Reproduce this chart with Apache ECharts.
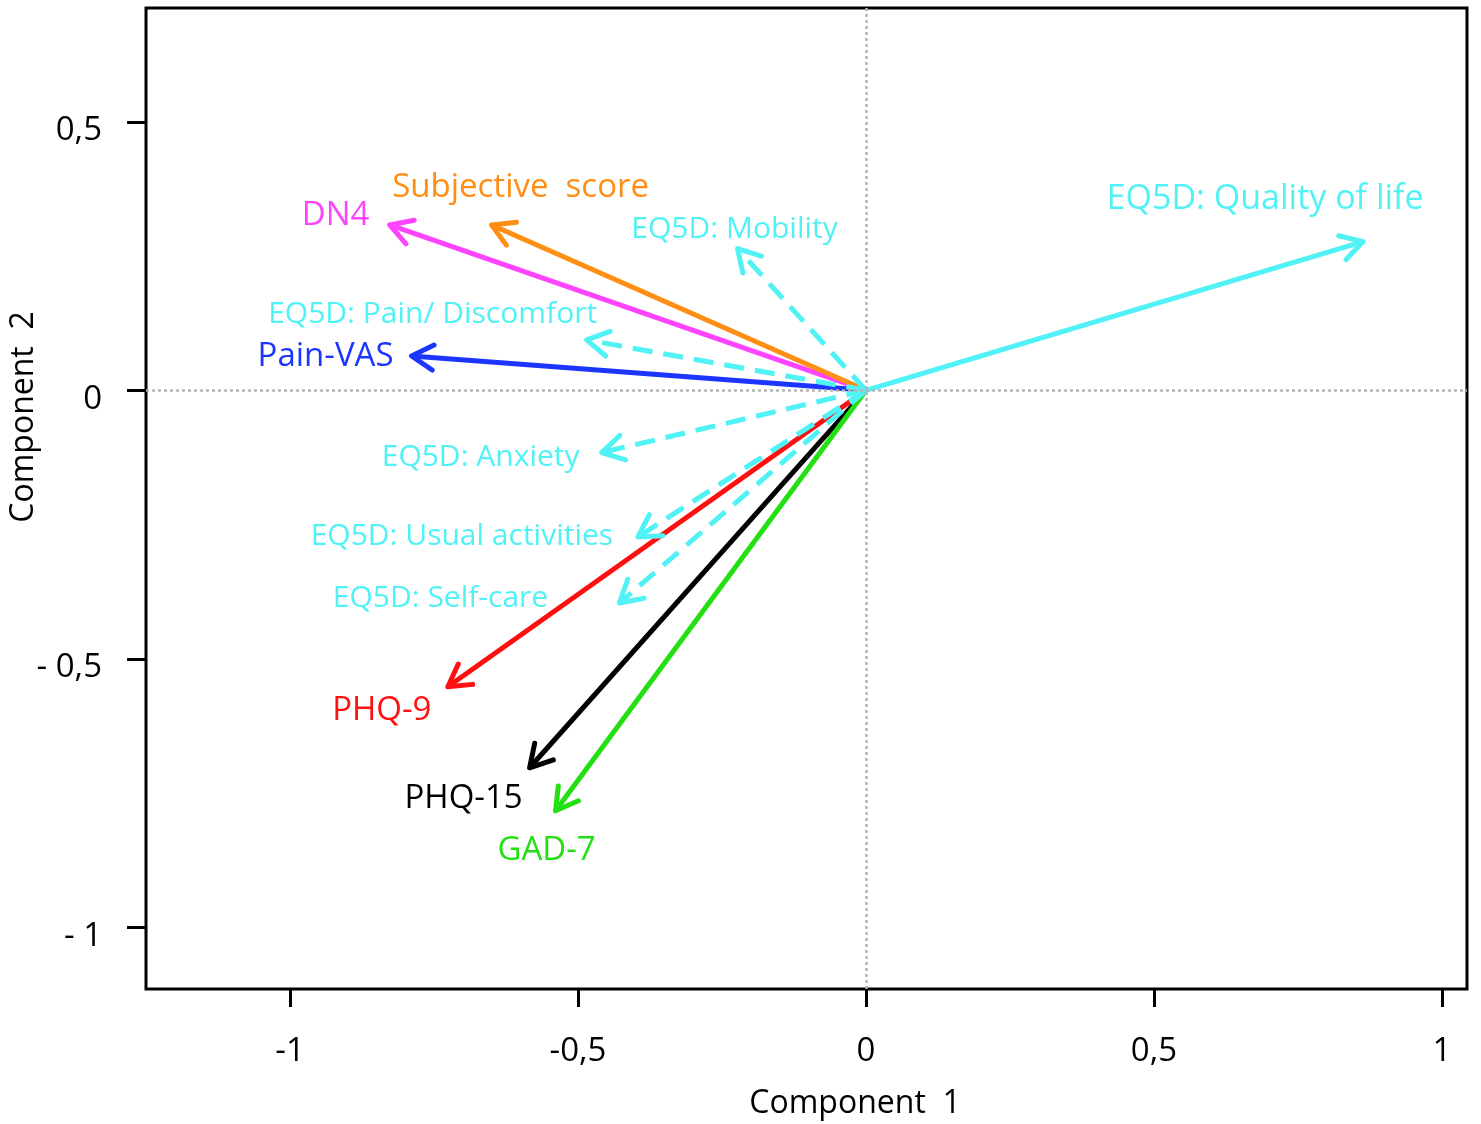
<!DOCTYPE html>
<html>
<head>
<meta charset="utf-8">
<script src="https://cdn.jsdelivr.net/npm/echarts@6/dist/echarts.min.js"></script>
<style>
html, body { margin: 0; padding: 0; background: #fff; }
#chart { width: 1481px; height: 1124px; }
</style>
</head>
<body>
<div id="chart"></div>
<script>
// loadings on the first two components
var variables = ['DN4', 'Subjective  score', 'Pain-VAS', 'PHQ-15', 'GAD-7', 'PHQ-9',
  'EQ5D: Mobility', 'EQ5D: Pain/ Discomfort', 'EQ5D: Anxiety', 'EQ5D: Usual activities',
  'EQ5D: Self-care', 'EQ5D: Quality of life']
var comp1 = [-0.827, -0.650, -0.789, -0.584, -0.539, -0.726, -0.223, -0.485, -0.459, -0.396, -0.428, 0.863]
var comp2 = [0.308, 0.308, 0.064, -0.703, -0.783, -0.552, 0.264, 0.094, -0.116, -0.273, -0.396, 0.277]
var xTicks = [-1, -0.5, 0, 0.5, 1]
var yTicks = [-1, -0.5, 0, 0.5]

// look of each arrow
var cyan = '#50F2F6'
var colors = {
  'DN4': '#FF44FF',
  'Subjective  score': '#FF8E14',
  'Pain-VAS': '#1C36FF',
  'PHQ-15': '#000000',
  'GAD-7': '#22E012',
  'PHQ-9': '#FF1010',
}
var dashedSet = ['EQ5D: Mobility', 'EQ5D: Pain/ Discomfort', 'EQ5D: Anxiety', 'EQ5D: Usual activities', 'EQ5D: Self-care']
// label centre relative to the arrow tip, px
var labelShift = {
  'DN4': [-54, -9],
  'Subjective  score': [29, -37],
  'Pain-VAS': [-86, 1],
  'PHQ-15': [-66, 31],
  'GAD-7': [-9, 40],
  'PHQ-9': [-66, 24],
  'EQ5D: Mobility': [-3, -19],
  'EQ5D: Pain/ Discomfort': [-154, -25],
  'EQ5D: Anxiety': [-121, 5],
  'EQ5D: Usual activities': [-176, 0],
  'EQ5D: Self-care': [-179, -4],
  'EQ5D: Quality of life': [-98, -42],
}

var FONT = '"Open Sans", "DejaVu Sans", sans-serif'

function fmtX(v) {
  return String(v).replace('.', ',')
}
function fmtY(v) {
  if (v < 0) return '- ' + String(-v).replace('.', ',')
  return String(v).replace('.', ',')
}

function renderArrow(params, api) {
  var name = variables[params.dataIndex]
  var o = api.coord([0, 0])
  var p = api.coord([api.value(0), api.value(1)])
  var ang = Math.atan2(p[1] - o[1], p[0] - o[0])
  var len = 25
  var spread = Math.PI / 6
  var h1 = [p[0] - len * Math.cos(ang - spread), p[1] - len * Math.sin(ang - spread)]
  var h2 = [p[0] - len * Math.cos(ang + spread), p[1] - len * Math.sin(ang + spread)]
  var color = colors[name] || cyan
  var dashed = dashedSet.indexOf(name) >= 0
  var shaftStyle = { stroke: color, lineWidth: 5, lineCap: 'butt' }
  if (dashed) shaftStyle.lineDash = [20, 11]
  var shift = labelShift[name]
  var size = dashed ? 30 : (name === 'EQ5D: Quality of life' ? 34 : 33)
  return {
    type: 'group',
    children: [
      { type: 'line', shape: { x1: o[0], y1: o[1], x2: p[0], y2: p[1] }, style: shaftStyle },
      {
        type: 'polyline',
        shape: { points: [h1, p, h2] },
        style: { stroke: color, lineWidth: 5, fill: null, lineCap: 'round', lineJoin: 'round' },
      },
      {
        type: 'text',
        x: p[0] + shift[0],
        y: p[1] + shift[1],
        style: {
          text: name,
          fill: color,
          fontSize: size,
          fontFamily: FONT,
          align: 'center',
          verticalAlign: 'middle',
          textAlign: 'center',
          textVerticalAlign: 'middle',
        },
      },
    ],
  }
}

var chart = echarts.init(document.getElementById('chart'))
var arrows = variables.map(function (n, i) {
  return [comp1[i], comp2[i]]
})

chart.setOption({
  backgroundColor: '#fff',
  animation: false,
  grid: {
    left: 146,
    right: 14,
    top: 8,
    bottom: 135,
    show: true,
    borderColor: '#000',
    borderWidth: 3,
  },
  xAxis: {
    type: 'value',
    min: -1.25,
    max: 1.0434,
    axisLine: { show: false, onZero: false },
    splitLine: { show: false },
    axisTick: {
      show: true,
      length: 18,
      customValues: xTicks,
      lineStyle: { color: '#000', width: 3 },
    },
    axisLabel: {
      customValues: xTicks,
      formatter: fmtX,
      fontSize: 33,
      fontFamily: FONT,
      color: '#000',
      margin: 46,
    },
  },
  yAxis: {
    type: 'value',
    min: -1.115,
    max: 0.712,
    axisLine: { show: false, onZero: false },
    splitLine: { show: false },
    axisTick: {
      show: true,
      length: 19,
      customValues: yTicks,
      lineStyle: { color: '#000', width: 3 },
    },
    axisLabel: {
      customValues: yTicks,
      formatter: fmtY,
      fontSize: 33,
      fontFamily: FONT,
      color: '#000',
      margin: 44,
      verticalAlign: 'top',
      lineHeight: 18,
    },
  },
  graphic: [
    {
      type: 'text',
      x: 855,
      y: 1104,
      style: {
        text: 'Component  1',
        fill: '#000',
        fontSize: 32,
        fontFamily: FONT,
        align: 'center',
        verticalAlign: 'middle',
        textAlign: 'center',
        textVerticalAlign: 'middle',
      },
    },
    {
      type: 'text',
      x: 24,
      y: 417,
      rotation: Math.PI / 2,
      style: {
        text: 'Component  2',
        fill: '#000',
        fontSize: 32,
        fontFamily: FONT,
        align: 'center',
        verticalAlign: 'middle',
        textAlign: 'center',
        textVerticalAlign: 'middle',
      },
    },
  ],
  series: [
    {
      type: 'scatter',
      data: [],
      z: 1,
      markLine: {
        silent: true,
        symbol: 'none',
        label: { show: false },
        lineStyle: { color: '#b4b4b4', type: [3, 3], width: 2.5 },
        data: [{ xAxis: 0 }, { yAxis: 0 }],
      },
    },
    {
      type: 'custom',
      z: 2,
      renderItem: renderArrow,
      data: arrows,
    },
  ],
})
</script>
</body>
</html>
